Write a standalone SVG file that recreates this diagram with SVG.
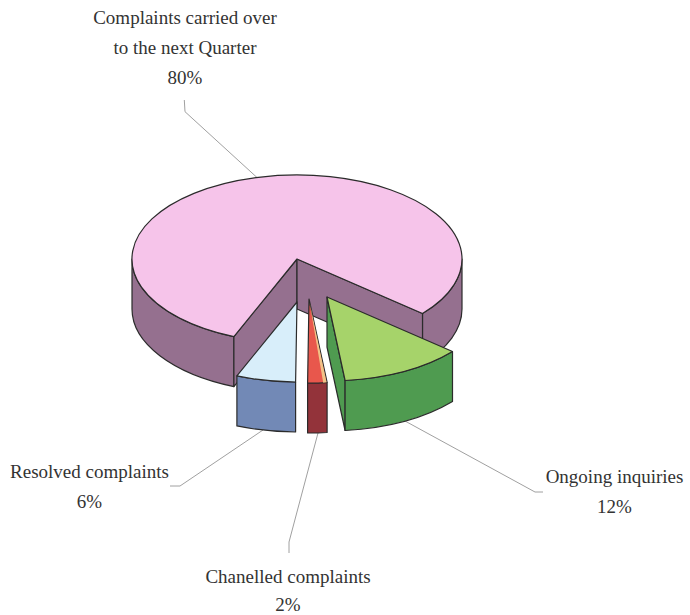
<svg xmlns="http://www.w3.org/2000/svg" width="690" height="615" viewBox="0 0 690 615">
<style>
  .edge { stroke: #2b2b2b; stroke-width: 1.2; stroke-linejoin: round; }
  .pinkTop { fill: #f6c4ea; }
  .mauve { fill: #95708f; }
  .blueTop { fill: #d8eefa; }
  .blueSide { fill: #7289b6; }
  .redTop { fill: #e8574c; }
  .redSide { fill: #93333a; }
  .greenTop { fill: #a6d36a; }
  .greenSide { fill: #4f9b50; }
  .leader { fill: none; stroke: #a0a0a0; stroke-width: 1; }
  .lbl { font-family: "Liberation Serif", "Times New Roman", serif; font-size: 19px; fill: #333; text-anchor: middle; }
</style>
<rect width="690" height="615" fill="#ffffff"/>

<g id="connectors">
  <polyline class="leader" points="184.3,100 185,111.7 257,177.5"/>
  <polyline class="leader" points="170,486 180,486 263,430"/>
  <polyline class="leader" points="318,433 289,542 289,553"/>
  <polyline class="leader" points="543,492 535,492 405,421"/>
</g>

<g id="carried-over">
  <path class="mauve edge" d="M132,259 A165,84 0 0 0 233.9,336.6 L233.9,386.6 A165,84 0 0 1 132,309 Z"/>
  <path class="mauve edge" d="M462,259 L462,309 A165,84 0 0 1 422.5,363.5 L422.5,313.5 A165,84 0 0 0 462,259 Z"/>
  <path class="mauve edge" d="M297,259 L233.9,336.6 L233.9,386.6 L297,309 Z"/>
  <path class="mauve edge" d="M297,259 L422.5,313.5 L422.5,363.5 L297,309 Z"/>
  <path class="pinkTop edge" d="M297,259 L233.9,336.6 A165,84 0 1 1 422.5,313.5 Z"/>
  <text class="lbl" x="185" y="24">Complaints carried over</text>
  <text class="lbl" x="185" y="54">to the next Quarter</text>
  <text class="lbl" x="185" y="84">80%</text>
</g>

<g id="resolved">
  <path class="blueSide edge" d="M295.6,382 A157,80 0 0 1 236.9,375.9 L236.9,425.9 A157,80 0 0 0 295.6,432 Z"/>
  <path class="blueTop edge" d="M297,302 L295.6,382 A157,80 0 0 1 236.9,375.9 Z"/>
  <text class="lbl" x="89.5" y="478">Resolved complaints</text>
  <text class="lbl" x="89.5" y="508">6%</text>
</g>

<g id="channelled">
  <path class="redSide edge" d="M327.1,382.5 A165,84 0 0 1 307.6,383 L307.6,433 A165,84 0 0 0 327.1,432.5 Z"/>
  <path class="redTop edge" d="M309,299 L327.1,382.5 A165,84 0 0 1 307.6,383 Z"/>
  <path d="M309.5,302 L326.6,382.3 L323.2,382.7 Z" fill="#f2c287"/>
  <text class="lbl" x="288" y="583">Chanelled complaints</text>
  <text class="lbl" x="288" y="611">2%</text>
</g>

<g id="ongoing">
  <path class="greenSide edge" d="M327,297 L345.1,380.5 L345.1,430.5 L327,347 Z"/>
  <path class="greenSide edge" d="M452.5,351.5 A165,84 0 0 1 345.1,380.5 L345.1,430.5 A165,84 0 0 0 452.5,401.5 Z"/>
  <path class="greenTop edge" d="M327,297 L452.5,351.5 A165,84 0 0 1 345.1,380.5 Z"/>
  <text class="lbl" x="614.5" y="483">Ongoing inquiries</text>
  <text class="lbl" x="614.5" y="513">12%</text>
</g>
</svg>
